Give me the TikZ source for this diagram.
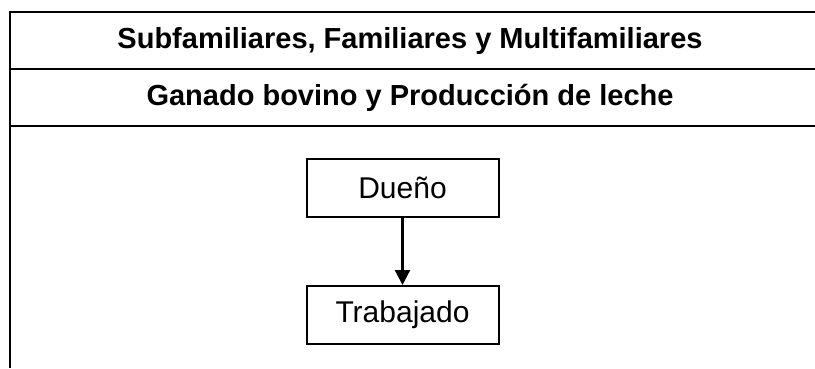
\documentclass[tikz,border=0pt]{standalone}
\usepackage{fontspec}
\setmainfont{Liberation Sans}
\usetikzlibrary{arrows.meta,positioning}
\tikzset{
  rowtitle/.style={font=\fontsize{29}{33}\selectfont\bfseries, inner sep=0pt},
  rolebox/.style={draw, line width=2pt, minimum width=192pt, minimum height=58pt,
                  inner sep=0pt, font=\fontsize{30}{34}\selectfont},
  tableline/.style={line width=2.5pt},
  linkarrow/.style={-{Triangle[length=15pt,width=15pt]}, line width=2.2pt}
}
\begin{document}
\begin{tikzpicture}[x=1pt, y=-1pt]
    \useasboundingbox (0,0) rectangle (815,368);

    % Table frame and rows
    \draw[tableline] (815,12) -| (10,368);
    \draw[tableline] (10,69) -- (815,69);
    \draw[tableline] (10,126) -- (815,126);

    \node[rowtitle] (title) at (410,41) {Subfamiliares, Familiares y Multifamiliares};
    \node[rowtitle] (sector) at (410,98) {Ganado bovino y Producción de leche};

    % Roles
    \node[rolebox] (owner) at (402.5,188) {Dueño};
    \node[rolebox, below=67pt of owner] (worker) {Trabajado};

    \draw[linkarrow] (owner) -- (worker);
\end{tikzpicture}
\end{document}
